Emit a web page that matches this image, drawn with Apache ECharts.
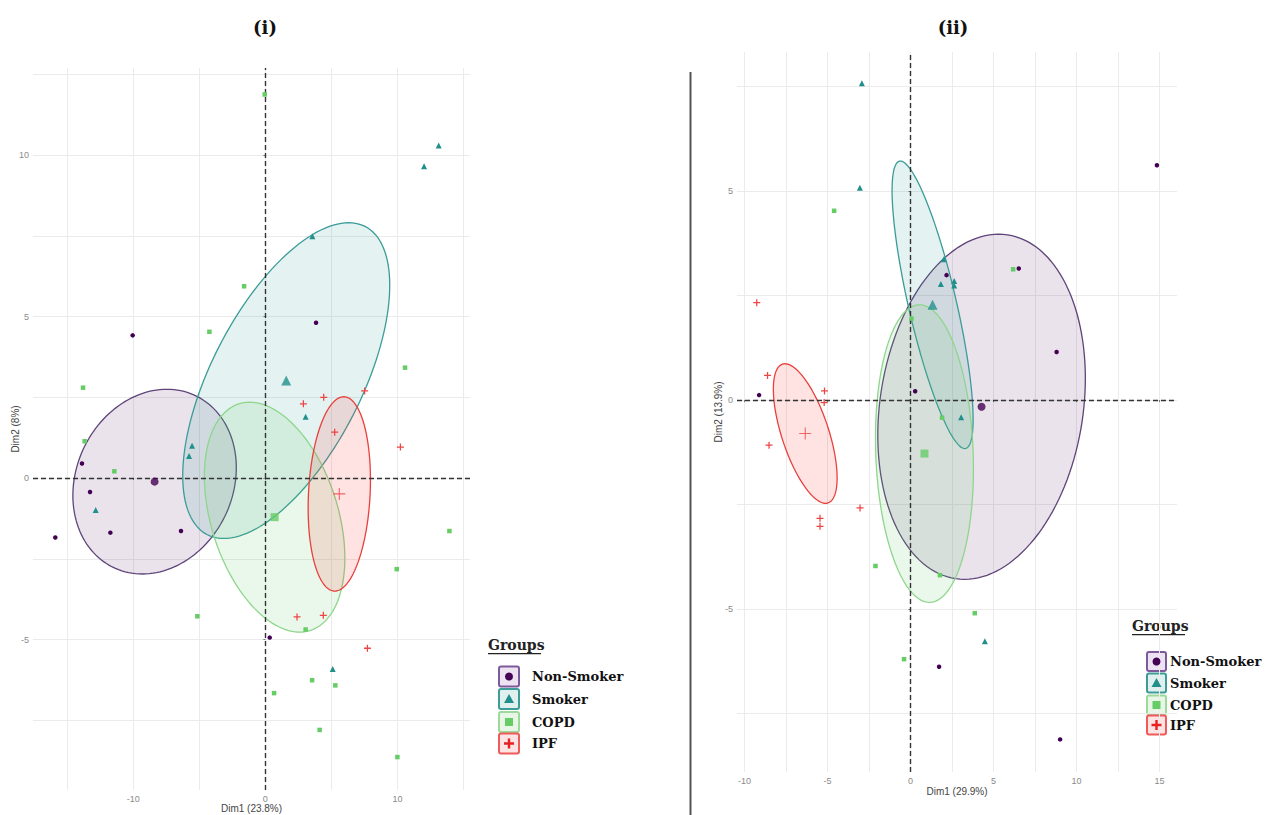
<!DOCTYPE html>
<html><head><meta charset="utf-8">
<script src="https://cdn.jsdelivr.net/npm/echarts@6/dist/echarts.min.js"></script>
<style>html,body{margin:0;padding:0;background:#fff}#c{width:1271px;height:815px}</style>
</head><body><div id="c"></div><script>
// ---------- DATA ----------
const groups = ['Non-Smoker', 'Smoker', 'COPD', 'IPF'];
const axisNamesI = ['Dim1 (23.8%)', 'Dim2 (8%)'];
const axisNamesII = ['Dim1 (29.9%)', 'Dim2 (13.9%)'];
const panelTitles = ['(i)', '(ii)'];

// panel (i) individuals
const nonSmokerI = [[-10.05,4.42],[3.84,4.81],[-13.89,0.45],[-13.28,-0.43],[-11.74,-1.69],[-6.39,-1.64],[-15.91,-1.84],[0.33,-4.94]];
const smokerI = [[13.13,10.3],[12.02,9.66],[3.56,7.49],[3.05,1.90],[-5.55,1.0],[-5.78,0.68],[-12.85,-0.99],[5.10,-5.91]];
const copdI = [[-0.05,11.88],[-1.61,5.94],[-4.24,4.53],[-13.81,2.80],[10.58,3.42],[-13.69,1.14],[-11.44,0.21],[13.94,-1.64],[9.95,-2.82],[-5.15,-4.28],[3.05,-4.69],[3.54,-6.26],[5.30,-6.42],[0.66,-6.66],[4.11,-7.80],[10.0,-8.64]];
const ipfI = [[7.52,2.70],[4.42,2.50],[2.88,2.30],[5.25,1.42],[10.23,0.96],[2.40,-4.30],[4.39,-4.25],[7.73,-5.27]];
const centersI = [[-8.39,-0.11],[1.58,3.02],[0.70,-1.21],[5.60,-0.49]];
// ellipses: [centerX, centerY, halfWidthX, halfHeightY, xOffsetOfTopPoint]
const ellipsesI = [[-8.39,-0.11,6.19,2.86,0.93],[1.58,3.02,7.84,4.89,4.73],[0.70,-1.21,5.32,3.56,-1.89],[5.60,-0.49,2.36,3.01,0.34]];

// panel (ii) individuals
const nonSmokerII = [[14.84,5.62],[6.52,3.15],[2.17,2.99],[8.80,1.15],[-9.12,0.12],[0.28,0.21],[1.72,-6.38],[9.01,-8.12]];
const smokerII = [[-2.93,7.58],[-3.05,5.08],[2.01,3.37],[2.63,2.85],[2.63,2.74],[1.83,2.78],[3.05,-0.41],[4.48,-5.77]];
const copdII = [[-4.60,4.53],[6.18,3.13],[0.06,1.95],[1.90,-0.42],[-2.11,-3.97],[1.77,-4.19],[3.87,-5.10],[-0.39,-6.20]];
const ipfII = [[-9.26,2.33],[-8.61,0.59],[-5.18,0.22],[-5.20,-0.06],[-8.52,-1.08],[-3.04,-2.58],[-5.45,-2.83],[-5.45,-3.02]];
const centersII = [[4.28,-0.16],[1.33,2.28],[0.84,-1.28],[-6.34,-0.80]];
const ellipsesII = [[4.28,-0.16,6.25,4.13,1.03],[1.33,2.28,2.44,3.44,-1.94],[0.84,-1.28,2.95,3.56,-0.30],[-6.34,-0.80,1.92,1.67,-1.22]];

// axis ticks
const xGridI = [-15,-10,-5,0,5,10,15], xLabelsI = [-10,0,10];
const yGridI = [-7.5,-5,-2.5,0,2.5,5,7.5,10,12.5], yLabelsI = [-5,0,5,10];
const xGridII = [-10,-7.5,-5,-2.5,0,2.5,5,7.5,10,12.5,15], xLabelsII = [-10,-5,0,5,10,15];
const yGridII = [-7.5,-5,-2.5,0,2.5,5,7.5], yLabelsII = [-5,0,5];

// ---------- STYLE ----------
const pointColors = ['#440154', '#21908C', '#66CC66', '#EE4444'];
const ellStroke = ['#5e4479', '#3a9c98', '#8ed68c', '#E8413C'];
const ellFill = ['rgba(68,1,84,0.11)', 'rgba(33,144,140,0.12)', 'rgba(93,200,99,0.13)', 'rgba(255,40,40,0.13)'];
const legBorder = ['#7d5b9a', '#3d9b98', '#9ed89b', '#ef5a5a'];
const legFill = ['#ece2f1', '#dff0ef', '#e8f6e6', '#fde3e3'];
const plusPath = 'path://M0,4.1H10V5.9H0Z M4.1,0H5.9V10H4.1Z';
const plusThin = 'path://M0,4.55H10V5.45H0Z M4.55,0H5.45V10H4.55Z';
const symbols = ['circle', 'triangle', 'rect', plusPath];
const symSizes = [4.5, 6, 4.5, 7];
const cSymbols = ['circle', 'triangle', 'rect', plusThin];
const cSizes = [8, 10, 8, 12];

const serif = '"DejaVu Serif", "Liberation Serif", serif';
const sans = '"Liberation Sans", Arial, sans-serif';

function valAxis(grid, min, max, vals, labels, name, gap, isX) {
  const main = {
    type: 'value', gridIndex: grid, min: min, max: max,
    axisLine: { show: false },
    axisTick: { show: true, customValues: labels, length: 2, lineStyle: { color: '#777', width: 1 } },
    axisLabel: { customValues: labels, color: '#8a8a8a', fontSize: 9, fontFamily: sans, margin: 4 },
    splitLine: { show: false },
    name: name, nameLocation: 'middle', nameGap: gap, nameMoveOverlap: false,
    nameTextStyle: { color: '#444', fontSize: 10, fontFamily: sans }
  };
  const gridAxis = {
    type: 'value', gridIndex: grid, min: min, max: max,
    axisLine: { show: false }, axisLabel: { show: false },
    axisTick: { show: false, customValues: vals },
    splitLine: { show: true, lineStyle: { color: '#ebebeb', width: 1 } }
  };
  if (isX) gridAxis.position = 'top'; else gridAxis.position = 'right';
  return [main, gridAxis];
}

const xI = valAxis(0, -17.6, 15.5, xGridI, xLabelsI, axisNamesI[0], 13, true);
const yI = valAxis(0, -9.66, 12.7, yGridI, yLabelsI, axisNamesI[1], 13, false);
const xII = valAxis(1, -10.45, 16.05, xGridII, xLabelsII, axisNamesII[0], 14, true);
const yII = valAxis(1, -8.9, 8.33, yGridII, yLabelsII, axisNamesII[1], 14, false);
const xAxes = [xI[0], xI[1], xII[0], xII[1]];
const yAxes = [yI[0], yI[1], yII[0], yII[1]];

function ellipseSeries(ax, ell, g) {
  return {
    type: 'custom', xAxisIndex: ax, yAxisIndex: ax, silent: true, z: 2,
    encode: { x: 0, y: 1 },
    data: [ell],
    renderItem: function (p, api) {
      const cx = api.value(0), cy = api.value(1), hx = api.value(2), hy = api.value(3), dx = api.value(4);
      const w = Math.sqrt(Math.max(hx * hx - dx * dx, 0));
      const pts = [];
      for (let k = 0; k < 144; k++) {
        const t = k / 144 * 2 * Math.PI;
        pts.push(api.coord([cx + dx * Math.sin(t) + w * Math.cos(t), cy + hy * Math.sin(t)]));
      }
      return { type: 'polygon', shape: { points: pts },
        style: { fill: ellFill[g], stroke: ellStroke[g], lineWidth: 1.3 } };
    }
  };
}

function pointSeries(ax, data, g, withZeroLines) {
  const s = {
    type: 'scatter', name: groups[g], xAxisIndex: ax, yAxisIndex: ax, z: 4,
    data: data, symbol: symbols[g], symbolSize: symSizes[g],
    itemStyle: { color: pointColors[g], opacity: 1 }, silent: true
  };
  if (withZeroLines) {
    s.markLine = {
      silent: true, symbol: 'none', label: { show: false },
      lineStyle: { color: '#333', type: [5, 3], width: 1.4 },
      data: [{ xAxis: 0 }, { yAxis: 0 }], z: 3
    };
  }
  return s;
}

function centerSeries(ax, centers) {
  return centers.map((c, g) => ({
    type: 'scatter', name: groups[g] + ' mean', xAxisIndex: ax, yAxisIndex: ax, z: 5,
    data: [c], symbol: cSymbols[g], symbolSize: cSizes[g],
    itemStyle: { color: pointColors[g] }, silent: true
  }));
}

const ptsI = [nonSmokerI, smokerI, copdI, ipfI];
const ptsII = [nonSmokerII, smokerII, copdII, ipfII];
const series = [];
[[0, ellipsesI, ptsI, centersI], [2, ellipsesII, ptsII, centersII]].forEach(([ax, ells, pts, cen]) => {
  ells.forEach((e, g) => series.push(ellipseSeries(ax, e, g)));
  pts.forEach((d, g) => series.push(pointSeries(ax, d, g, g === 0)));
  centerSeries(ax, cen).forEach(s => series.push(s));
});

// ---------- LEGEND (graphic) ----------
function legend(titleX, titleY, boxX, boxW, rowYs, textX) {
  const els = [];
  els.push({ type: 'text', x: titleX, y: titleY, style: { text: 'Groups', font: 'bold 14px ' + serif, fill: '#222', verticalAlign: 'middle', align: 'left' } });
  els.push({ type: 'rect', shape: { x: titleX, y: titleY + 8, width: 53, height: 1.2 }, style: { fill: '#222' } });
  rowYs.forEach((y, g) => {
    const cx = boxX + boxW / 2;
    els.push({ type: 'rect', shape: { x: boxX, y: y - boxW / 2, width: boxW, height: boxW, r: 2 },
      style: { fill: legFill[g], stroke: legBorder[g], lineWidth: 2 } });
    let sym;
    if (g === 0) sym = { type: 'circle', shape: { cx: cx, cy: y, r: 4 }, style: { fill: pointColors[0] } };
    else if (g === 1) sym = { type: 'polygon', shape: { points: [[cx, y - 5], [cx + 5, y + 4], [cx - 5, y + 4]] }, style: { fill: pointColors[1] } };
    else if (g === 2) sym = { type: 'rect', shape: { x: cx - 4, y: y - 4, width: 8, height: 8 }, style: { fill: pointColors[2] } };
    else sym = { type: 'polygon', shape: { points: [[cx - 1.2, y - 5], [cx + 1.2, y - 5], [cx + 1.2, y - 1.2], [cx + 5, y - 1.2], [cx + 5, y + 1.2], [cx + 1.2, y + 1.2], [cx + 1.2, y + 5], [cx - 1.2, y + 5], [cx - 1.2, y + 1.2], [cx - 5, y + 1.2], [cx - 5, y - 1.2], [cx - 1.2, y - 1.2]] }, style: { fill: '#e82020' } };
    sym.z = 101;
    els.push(sym);
    els.push({ type: 'text', x: textX, y: y, style: { text: groups[g], font: 'bold 13px ' + serif, fill: '#111', verticalAlign: 'middle', align: 'left' } });
  });
  return els;
}

const graphic = [].concat(
  [{ type: 'text', x: 265, y: 27, style: { text: panelTitles[0], font: 'bold 18px ' + serif, fill: '#111', align: 'center', verticalAlign: 'middle' } },
   { type: 'text', x: 953, y: 27, style: { text: panelTitles[1], font: 'bold 18px ' + serif, fill: '#111', align: 'center', verticalAlign: 'middle' } },
   { type: 'line', shape: { x1: 690.5, y1: 72, x2: 690.5, y2: 815 }, style: { stroke: '#555', lineWidth: 2 } }],
  legend(488, 645, 499, 20, [676.5, 699, 722, 743.5], 532),
  legend(1132, 626, 1147, 19, [661.5, 683, 705, 725], 1170)
);

const chart = echarts.init(document.getElementById('c'), null, { renderer: 'svg' });
chart.setOption({
  backgroundColor: '#fff',
  animation: false,
  grid: [
    { left: 33, right: 801, top: 68, bottom: 25, outerBoundsMode: 'none', containLabel: false },
    { left: 737, right: 94, top: 52, bottom: 43, outerBoundsMode: 'none', containLabel: false }
  ],
  xAxis: xAxes,
  yAxis: yAxes,
  series: series,
  graphic: graphic
});
</script></body></html>
